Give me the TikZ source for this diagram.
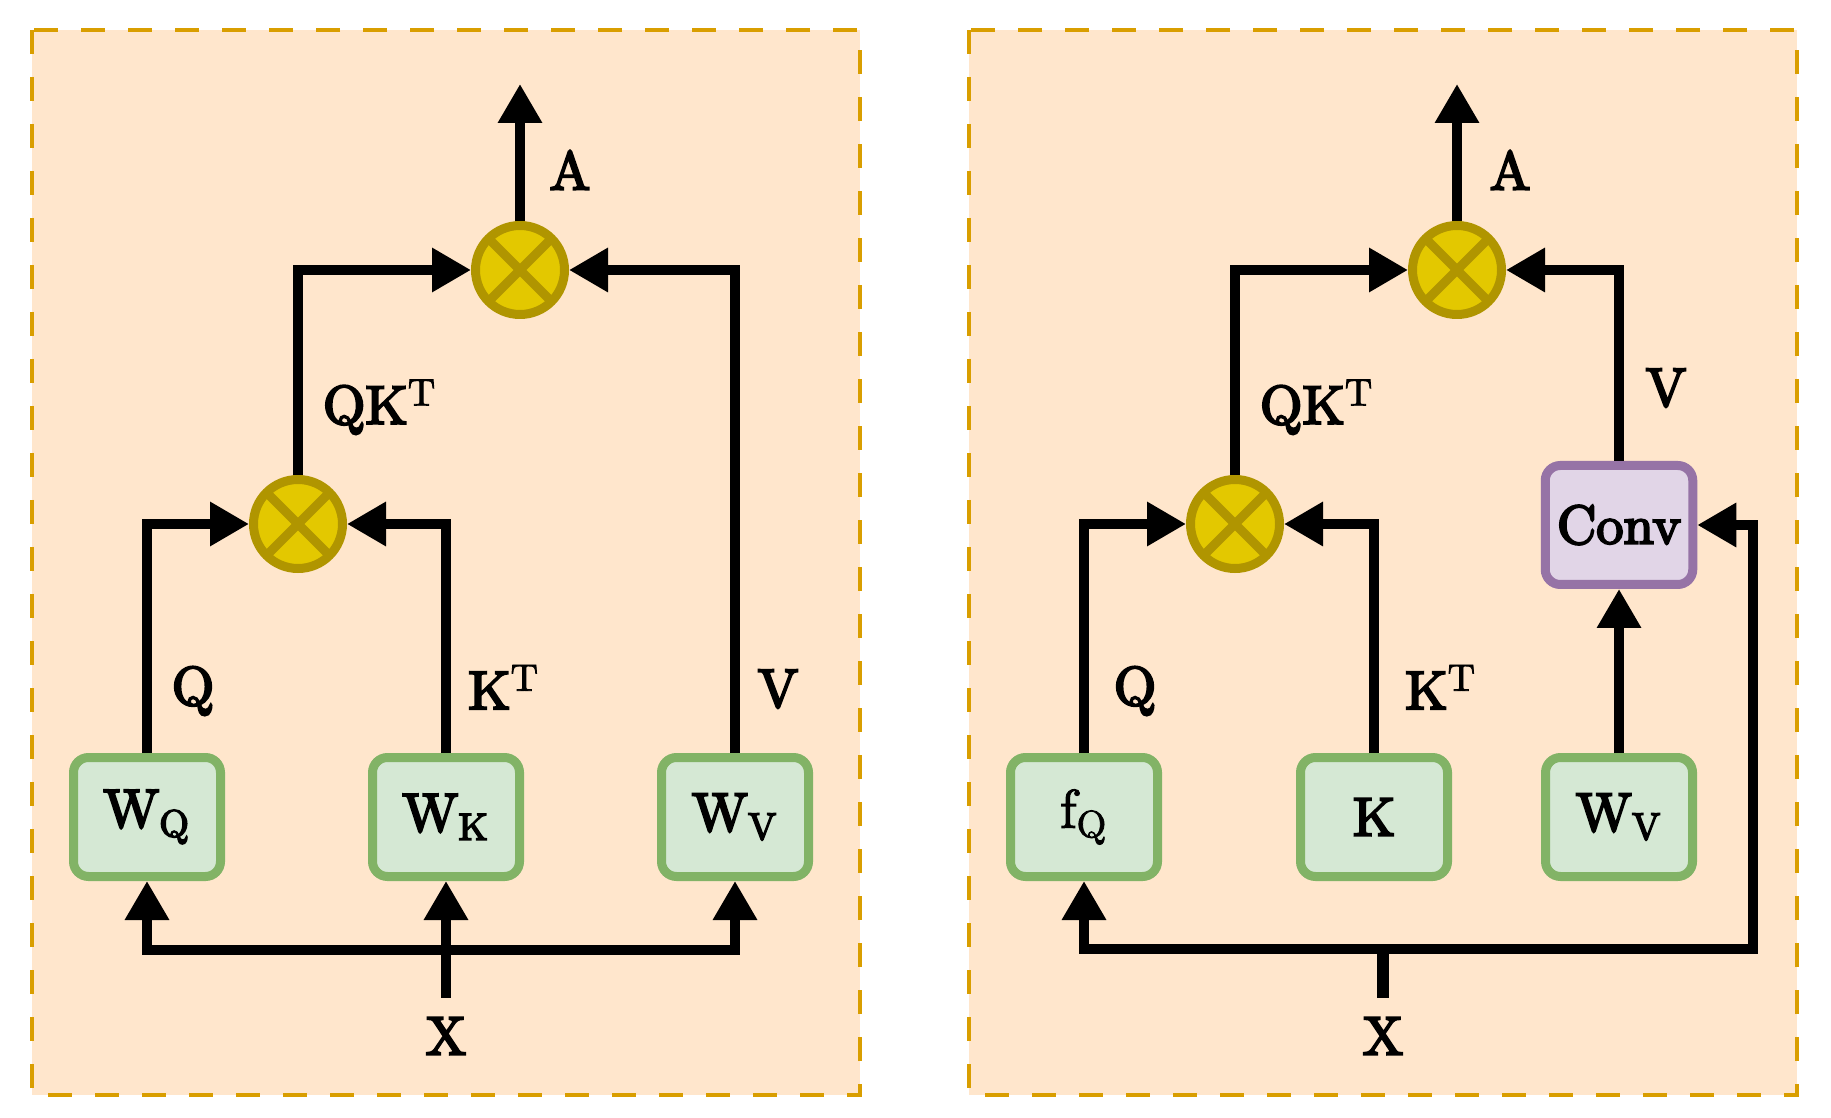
\documentclass[tikz,border=0pt]{standalone}
\usepackage{fontspec}
\usepackage{tikz}
\usetikzlibrary{arrows.meta}
\newfontfamily\heavy{lmroman10-regular}[Extension=.otf,FakeBold=4]
\newfontfamily\light{lmroman10-regular}[Extension=.otf,FakeBold=2]

\definecolor{panelfill}{HTML}{FFE6CC}
\definecolor{paneldraw}{HTML}{D99E00}
\definecolor{boxfill}{HTML}{D5E8D4}
\definecolor{boxdraw}{HTML}{82B366}
\definecolor{convfill}{HTML}{E1D5E7}
\definecolor{convdraw}{HTML}{9673A6}
\definecolor{multfill}{HTML}{E3C800}
\definecolor{multdraw}{HTML}{B09500}

\begin{document}
\begin{tikzpicture}[
		panel/.style={draw=paneldraw, fill=panelfill, line width=0.04cm, dash pattern=on 0.24cm off 0.23cm},
		wbox/.style={rectangle, rounded corners=0.15cm, draw=boxdraw, fill=boxfill, line width=0.09cm, minimum width=1.47cm, minimum height=1.19cm},
		convbox/.style={wbox, draw=convdraw, fill=convfill},
		mult/.style={circle, draw=multdraw, fill=multfill, line width=0.09cm, minimum size=0.89cm, inner sep=0pt,
			path picture={\draw[multdraw, line width=0.09cm] (path picture bounding box.south west) -- (path picture bounding box.north east) (path picture bounding box.north west) -- (path picture bounding box.south east);}},
		conn/.style={line width=0.095cm},
		>={Triangle[length=0.39cm,width=0.42cm]},
		every node/.append style={font=\fontsize{15.5}{18}\selectfont}
	]
		\useasboundingbox (0,0) rectangle (18.31,11.17);
		
		% left: plain self-attention
		\draw[panel] (0.32,10.87) rectangle (8.60,0.22);
		\node (WQ) at (1.47,3.00) [wbox] {\heavy W\textsubscript{\heavy Q}};
		\node (WK) at (4.46,3.00) [wbox] {\heavy W\textsubscript{\heavy K}};
		\node (WV) at (7.35,3.00) [wbox] {\heavy W\textsubscript{\heavy V}};
		\node (mul_1) at (2.98,5.93) [mult] {};
		\node (mul_2) at (5.20,8.47) [mult] {};
		\node (X_1) at (4.46,0.81) {\heavy X};
		\coordinate (A_1) at (5.20,10.33);
		\coordinate (split_1) at (4.46,1.67);
		
		\node (Q_1) at (1.93,4.26) {\heavy Q};
		\node (KT_1) at (5.04,4.30) {\heavy K\textsuperscript{\light T}};
		\node (V_1) at (7.78,4.28) {\heavy V};
		\node (QKT_1) at (3.80,7.10) {\heavy QK\textsuperscript{\light T}};
		\node (Alab_1) at (5.70,9.47) {\heavy A};
		
		\draw[conn,<->] (WQ) |- (split_1) -| (WV);
		\draw[conn,->,shorten <=0.07cm] (X_1) -- (WK);
		\draw[conn,->] (WQ) |- (mul_1);
		\draw[conn,->] (WK) |- (mul_1);
		\draw[conn,->] (mul_1) |- (mul_2);
		\draw[conn,->] (WV) |- (mul_2);
		\draw[conn,->] (mul_2) -- (A_1);
		
		% right: conv on the value branch
		\draw[panel] (9.69,10.87) rectangle (17.97,0.22);
		\node (fQ) at (10.84,3.00) [wbox] {\light f\textsubscript{\light Q}};
		\node (K) at (13.74,3.00) [wbox] {\heavy K};
		\node (WV_2) at (16.19,3.00) [wbox] {\heavy W\textsubscript{\heavy V}};
		\node (conv) at (16.19,5.92) [convbox] {\heavy Conv};
		\node (mul_3) at (12.35,5.93) [mult] {};
		\node (mul_4) at (14.57,8.47) [mult] {};
		\node (X_2) at (13.83,0.81) {\heavy X};
		\coordinate (A_2) at (14.57,10.33);
		\coordinate (split_2) at (13.83,1.68);
		\coordinate (turn_2) at (17.53,1.68);
		
		\node (Q_2) at (11.35,4.26) {\heavy Q};
		\node (KT_2) at (14.41,4.30) {\heavy K\textsuperscript{\light T}};
		\node (V_2) at (16.66,7.29) {\heavy V};
		\node (QKT_2) at (13.17,7.10) {\heavy QK\textsuperscript{\light T}};
		\node (Alab_2) at (15.10,9.47) {\heavy A};
		
		\draw[conn,<->] (fQ) |- (turn_2) |- (conv);
		\draw[conn,line width=0.12cm,shorten <=0.07cm] (X_2) -- (split_2);
		\draw[conn,->] (fQ) |- (mul_3);
		\draw[conn,->] (K) |- (mul_3);
		\draw[conn,->] (WV_2) -- (conv);
		\draw[conn,->] (mul_3) |- (mul_4);
		\draw[conn,->] (conv) |- (mul_4);
		\draw[conn,->] (mul_4) -- (A_2);
	\end{tikzpicture}
\end{document}
